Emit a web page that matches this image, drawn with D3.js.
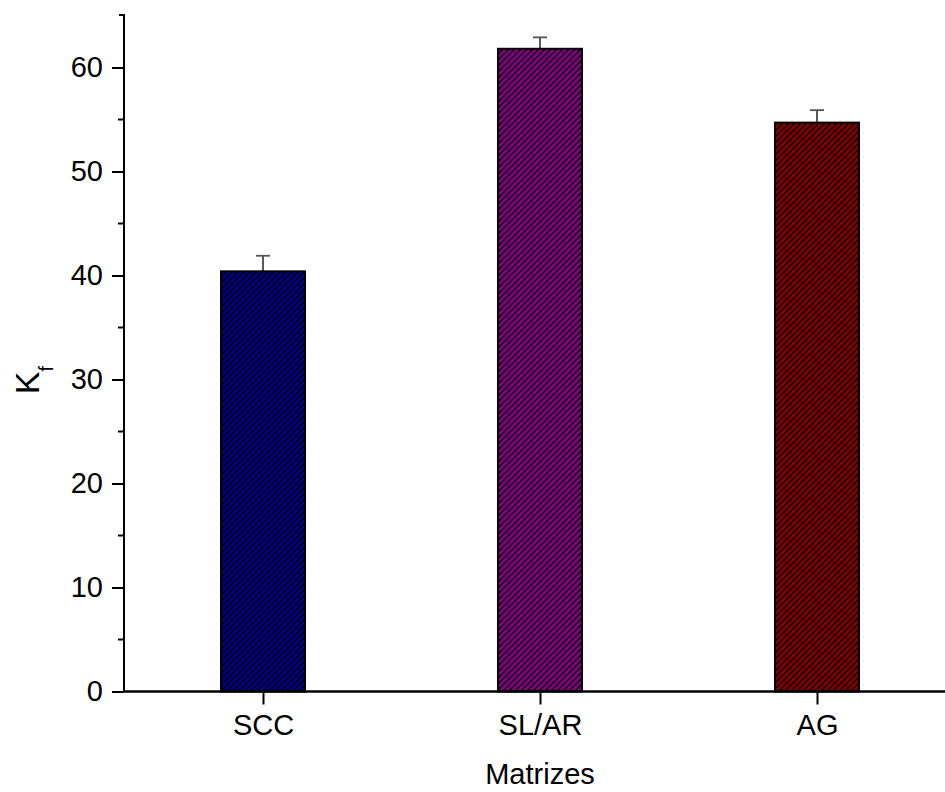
<!DOCTYPE html>
<html><head><meta charset="utf-8">
<script src="https://cdn.jsdelivr.net/npm/d3@7"></script>
<style>body{margin:0;background:#fff}svg{display:block}text{font-family:"Liberation Sans",Arial,sans-serif}</style>
</head><body>
<svg id="c" width="945" height="792"></svg>
<script>
const categories = ["SCC", "SL/AR", "AG"];
const values = [40.4, 61.8, 54.7];
const errors = [1.5, 1.1, 1.2];
const colors = ["#000080", "#800080", "#800000"];
const yTicks = [0, 10, 20, 30, 40, 50, 60];
const yLabel = "K";
const yLabelSub = "f";
const xLabel = "Matrizes";

(function () {
const svg = d3.select("#c");
const mLeft = 124, mBottom = 691.5, mTop = 15;
const x = d3.scaleLinear().domain([0.5, 3.5]).range([124.5, 955.5]);
const y = d3.scaleLinear().domain([0, 65]).range([mBottom, mTop + 0.5]);
const FS = 29;

const defs = svg.append("defs");
colors.forEach((c, i) => {
  const p = defs.append("pattern").attr("id", "h" + i).attr("patternUnits", "userSpaceOnUse")
    .attr("width", 6).attr("height", 6);
  p.append("rect").attr("width", 6).attr("height", 6).attr("fill", c);
  p.append("path").attr("d", "M-1,1 l2,-2 M0,6 l6,-6 M5,7 l2,-2").attr("stroke", "#000").attr("stroke-width", 1.3);
});

const bw = 84;
const data = categories.map((c, i) => ({c, v: values[i], e: errors[i], i}));
const eg = svg.append("g");
data.forEach(d => {
  const cx = x(d.i + 1);
  eg.append("line").attr("x1", cx).attr("x2", cx).attr("y1", y(d.v)).attr("y2", y(d.v + d.e)).attr("stroke", "#222").attr("stroke-width", 1.5);
  eg.append("line").attr("x1", cx - 7).attr("x2", cx + 7).attr("y1", y(d.v + d.e)).attr("y2", y(d.v + d.e)).attr("stroke", "#555").attr("stroke-width", 1.8);
});
svg.append("g").selectAll("rect").data(data).join("rect")
  .attr("x", d => x(d.i + 1) - bw / 2).attr("width", bw)
  .attr("y", d => y(d.v)).attr("height", d => y(0) - y(d.v))
  .attr("fill", d => `url(#h${d.i})`).attr("stroke", "#000").attr("stroke-width", 2);

const ya = svg.append("g").attr("transform", `translate(${mLeft},0)`)
  .call(d3.axisLeft(y).tickValues(yTicks).tickSize(12).tickPadding(9).tickFormat(d3.format("d")));
ya.attr("font-size", null).attr("font-family", null);
ya.select(".domain").attr("d", `M-5,${mTop}H0V${mBottom}`).attr("stroke-width", 2);
ya.selectAll(".tick line").attr("stroke-width", 2);
ya.selectAll(".tick text").style("font-size", FS + "px").attr("fill", "#000");
const minor = yTicks.map(t => t + 5).filter(t => t < 65);
ya.selectAll(".minor").data(minor).join("line").attr("class", "minor")
  .attr("x1", -6).attr("x2", 0).attr("y1", d => y(d)).attr("y2", d => y(d)).attr("stroke", "#000").attr("stroke-width", 2);

const xa = svg.append("g").attr("transform", `translate(0,${mBottom})`)
  .call(d3.axisBottom(x).tickValues([1, 2, 3]).tickSize(13).tickPadding(10).tickFormat(d => categories[d - 1]));
xa.attr("font-size", null).attr("font-family", null);
xa.select(".domain").attr("d", `M${mLeft},0H960`).attr("stroke-width", 2.5);
xa.selectAll(".tick line").attr("stroke-width", 2);
xa.selectAll(".tick text").style("font-size", FS + "px").attr("fill", "#000");

svg.append("text").attr("x", 540).attr("y", 784).attr("text-anchor", "middle").style("font-size", FS + "px").text(xLabel);
const yl = svg.append("text").attr("transform", "translate(39,380) rotate(-90)").attr("text-anchor", "middle").style("font-size", "34px");
yl.append("tspan").text(yLabel);
yl.append("tspan").style("font-size", "20px").attr("dy", 14).text(yLabelSub);
})();
</script>
</body></html>
